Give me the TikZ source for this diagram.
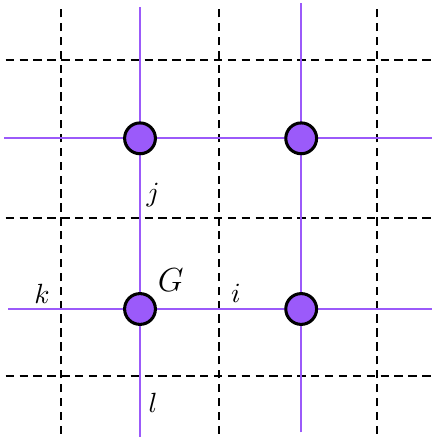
\documentclass[tikz,border=0pt]{standalone}
\usepackage{tikz}
\usetikzlibrary{positioning}
\definecolor{sitepurple}{RGB}{155,90,250}
\tikzstyle{gridline} = [black, line width=0.7pt, dash pattern=on 3pt off 2pt]
\tikzstyle{bond} = [sitepurple, line width=0.75pt]
\tikzstyle{site} = [circle, fill=sitepurple, draw=black, line width=1.1pt,
minimum size=0.39cm, inner sep=0pt]

\begin{document}
\begin{tikzpicture}
        \useasboundingbox (-1.772,-1.620) rectangle (3.696,3.911);

        % --- dashed grid ---
        \foreach \x in {-1,1,3}
            \draw [gridline] (\x,-1.58) -- (\x,3.85);
        \foreach \y in {-0.85,1.15,3.15}
            \draw [gridline] (-1.70,\y) -- (3.70,\y);

        % --- purple lattice lines ---
        \draw [bond] (0,-1.62) -- (0,3.82);
        \draw [bond] (2.04,-1.56) -- (2.04,3.87);
        \draw [bond] (-1.67,0) -- (3.70,0);
        \draw [bond] (-1.72,2.16) -- (3.70,2.16);

        % --- sites ---
        \node (g) [site] at (0,0) {};
        \node (gr) [site] at (2.04,0) {};
        \node (gu) [site] at (0,2.16) {};
        \node (gur) [site] at (2.04,2.16) {};

        % --- labels ---
        \node at (0.39,0.37) {\large $G$};
        \node at (1.215,0.20) {$i$};
        \node at (0.165,1.44) {$j$};
        \node at (-1.24,0.19) {$k$};
        \node at (0.165,-1.19) {$l$};

\end{tikzpicture}
\end{document}
